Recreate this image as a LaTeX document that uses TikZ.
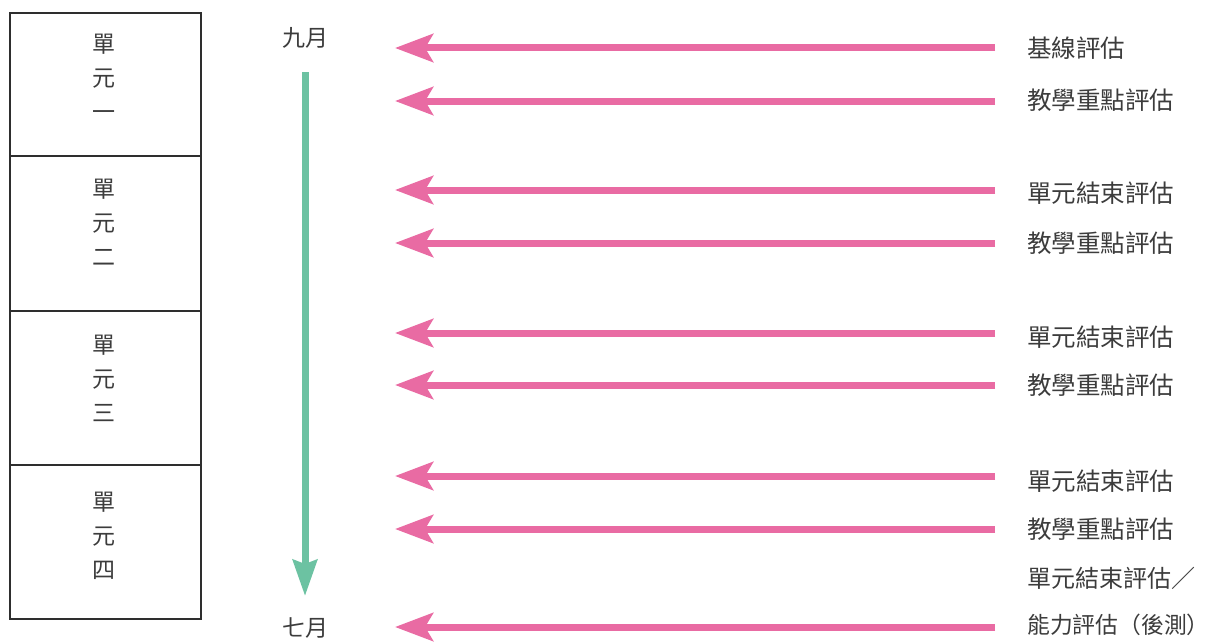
\documentclass[tikz,border=0pt]{standalone}
\usepackage{fontspec}
\setmainfont{Noto Sans CJK TC}
\usetikzlibrary{arrows.meta}
\definecolor{pinkarr}{HTML}{E96BA3}
\definecolor{greenarr}{HTML}{6CC2A2}
\definecolor{txt}{HTML}{3C3C3C}
\definecolor{boxline}{HTML}{2E2E2E}
\begin{document}
\begin{tikzpicture}[x=1pt,y=-1pt,
  unitbox/.style={draw=boxline,line width=2.2pt,minimum width=191pt,inner sep=0pt,anchor=north west},
  unittext/.style={text=txt,font=\fontsize{23}{34}\selectfont,align=center,anchor=north},
  lab/.style={text=txt,font=\fontsize{24.5}{28}\selectfont,anchor=west,inner sep=0pt},
  month/.style={text=txt,font=\fontsize{23}{27}\selectfont,inner sep=0pt},
  parr/.style={draw=pinkarr,line width=7pt,-{Stealth[length=38pt,width=28pt,inset=8pt]}},
  garr/.style={draw=greenarr,line width=7pt,-{Stealth[length=36pt,width=24pt,inset=4pt]}}]
\useasboundingbox (0,0) rectangle (1220,642);
\fill[white] (0,0) rectangle (1220,642);
% unit boxes
\node[unitbox,minimum height=143pt] (u1) at (9,12) {};
\node[unitbox,minimum height=155pt] (u2) at (9,155) {};
\node[unitbox,minimum height=154pt] (u3) at (9,310) {};
\node[unitbox,minimum height=154pt] (u4) at (9,464) {};
\node[unittext] (t1) at (104,31) {單\\元\\一};
\node[unittext] (t2) at (104,176) {單\\元\\二};
\node[unittext] (t3) at (104,332) {單\\元\\三};
\node[unittext] (t4) at (104,489) {單\\元\\四};
% months and green arrow
\node[month] (sep) at (305,38) {九月};
\node[month] (jul) at (305,628) {七月};
\coordinate (gs) at (305,72);
\coordinate (ge) at (305,596);
\draw[garr] (gs) -- (ge);
% labels
\node[lab] (l1) at (1027,48) {基線評估};
\node[lab] (l2) at (1027,100) {教學重點評估};
\node[lab] (l3) at (1027,193) {單元結束評估};
\node[lab] (l4) at (1027,243) {教學重點評估};
\node[lab] (l5) at (1027,337) {單元結束評估};
\node[lab] (l6) at (1027,385) {教學重點評估};
\node[lab] (l7) at (1027,481) {單元結束評估};
\node[lab] (l8) at (1027,529) {教學重點評估};
\node[lab,font=\fontsize{24}{28}\selectfont] (l9) at (1027,578) {單元結束評估／};
\node[lab,font=\fontsize{22.8}{28}\selectfont] (l10) at (1027,625) {能力評估（後測）};
% pink arrows
\foreach \n/\y in {1/48,2/101,3/190,4/243,5/333,6/385,7/476,8/529,9/627}{
  \coordinate (ps\n) at (995,\y);
  \coordinate (pe\n) at (395,\y);
  \draw[parr] (ps\n) -- (pe\n);
}
\end{tikzpicture}
\end{document}
